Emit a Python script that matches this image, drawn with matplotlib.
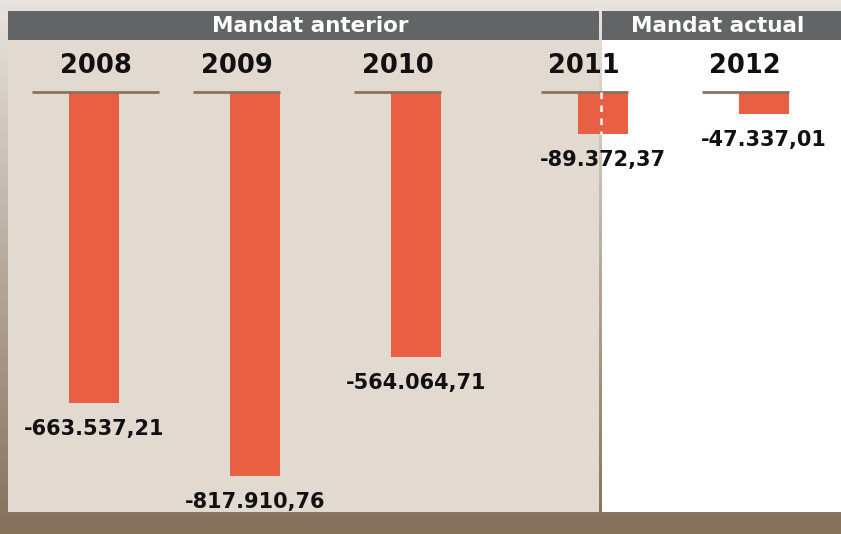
import numpy as np
import matplotlib.pyplot as plt
from matplotlib.patches import Rectangle

# data
years = ["2008", "2009", "2010", "2011", "2012"]
values = [-663537.21, -817910.76, -564064.71, -89372.37, -47337.01]
labels = ["-663.537,21", "-817.910,76", "-564.064,71", "-89.372,37", "-47.337,01"]
periods = ["Mandat anterior", "Mandat actual"]

W, H = 841, 534
bar_col = "#e95f43"
line_col = "#8a735d"
beige = "#e2d9d0"
head_col = "#636466"

fig = plt.figure(figsize=(W / 100, H / 100), dpi=100)

# background frame (pixel coordinates, y down)
bg = fig.add_axes([0, 0, 1, 1])
top = np.array([232, 228, 224]) / 255
bot = np.array([133, 112, 90]) / 255
t = np.linspace(0, 1, H)[:, None, None]
grad = top * (1 - t) + bot * t
bg.imshow(grad, extent=[0, W, H, 0], aspect="auto")
bg.set_xlim(0, W)
bg.set_ylim(H, 0)
bg.axis("off")

# panels and header bars
bg.add_patch(Rectangle((8, 40), 591, 472, facecolor=beige, lw=0))
bg.add_patch(Rectangle((602, 40), 239, 472, facecolor="white", lw=0))
bg.add_patch(Rectangle((8, 11), 591, 29, facecolor=head_col, lw=0))
bg.add_patch(Rectangle((602, 11), 239, 29, facecolor=head_col, lw=0))
bg.text(310, 26, periods[0], color="white", fontsize=15.5, fontweight="bold",
        ha="center", va="center")
bg.text(718, 26, periods[1], color="white", fontsize=15.5, fontweight="bold",
        ha="center", va="center")

# bar chart axes
unit = 161.0          # pixels per category step
scale = 383.7 / 817910.76  # pixels per unit of value
ax = fig.add_axes([0, (H - 512) / H, 1, (512 - 92) / H])
ax.patch.set_alpha(0)
ax.axis("off")
ax.set_xlim(-94 / unit, (W - 94) / unit)
ax.set_ylim(-(512 - 92) / scale, 0)

x = np.arange(len(years)) + np.array([0, 0, 0, 1, 1]) * 0.16
bw = 50 / unit
ax.bar(x, values, width=bw, color=bar_col, zorder=2)

right = x + bw / 2
line_l = right - 87 / unit
line_r = right.copy()
line_l[0] = x[0] - bw / 2 - 37 / unit
line_r[0] = right[0] + 40 / unit
ax.hlines(np.zeros(len(years)), line_l, line_r, color=line_col, lw=2.0,
          zorder=3, clip_on=False)

for i in range(len(years)):
    ax.annotate(years[i], xy=((line_l[i] + line_r[i]) / 2, 0), xytext=(0, 26),
                textcoords="offset pixels", ha="center", va="center",
                fontsize=18.5, fontweight="bold", color="#111111",
                annotation_clip=False)
    ax.annotate(labels[i], xy=(x[i], values[i]), xytext=(0, -26),
                textcoords="offset pixels", ha="center", va="center",
                fontsize=15, fontweight="bold", color="#111111",
                annotation_clip=False)

# dashed white divider across the 2011 bar
sep_x = (600.5 - 94) / unit
ax.plot([sep_x, sep_x], [0, values[3]], color="white", lw=1.8,
        dashes=(2.6, 2.6), zorder=4)

fig.savefig("out.png", dpi=100)
